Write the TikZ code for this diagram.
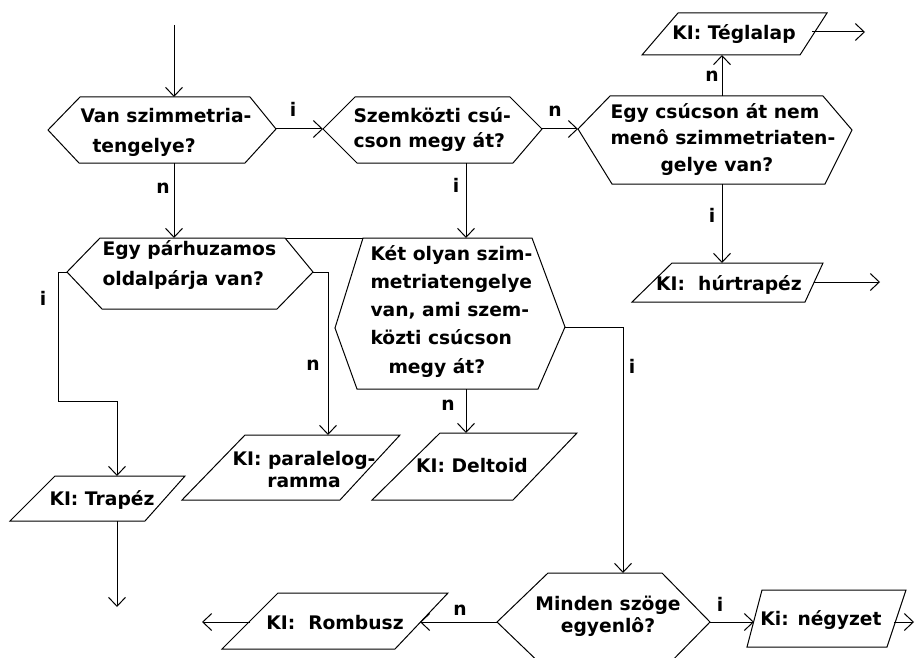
\documentclass[tikz,border=0pt]{standalone}
\usepackage{fontspec}
\setmainfont{DejaVu Sans}
\usetikzlibrary{arrows.meta}
\newcommand\mytxt[2]{\parbox[t]{#1}{\raggedright #2}}
\newcommand\myctr[2]{\parbox[t]{#1}{\centering #2}}
\begin{document}
\begin{tikzpicture}[x=1pt,y=-1pt,line width=1pt,
  shp/.style={draw,line width=1pt},
  txt/.style={inner sep=0pt,anchor=base west,font=\bfseries\fontsize{18.7}{28}\selectfont},
  ctxt/.style={inner sep=0pt,anchor=base,font=\bfseries\fontsize{18.7}{28}\selectfont},
  lbl/.style={inner sep=0pt,anchor=base,font=\bfseries\fontsize{18.7}{22}\selectfont},
  flow/.style={draw,line width=1pt,-{Straight Barb[length=9pt,width=17pt,line width=1pt]}},
  link/.style={draw,line width=1pt}]
\useasboundingbox (0,0) rectangle (915,658);
\clip (0,0) rectangle (915,658);
\fill[white] (0,0) rectangle (915,658);

% ---------- hexagons ----------
\draw[shp] (80,97) -- (250,97) -- (276,129) -- (245,163) -- (79,163) -- (48,130) -- cycle;
\coordinate (h1t) at (174,97); \coordinate (h1b) at (174,163); \coordinate (h1r) at (276,129);
\node[txt] (h1) at (80,122) {\mytxt{300pt}{\baselineskip=30pt Van szimmetria-\\\hspace*{12pt}tengelye?}};

\draw[shp] (355,97) -- (510,97) -- (542,129) -- (513,163) -- (357,163) -- (323,129) -- cycle;
\coordinate (h3l) at (323,129); \coordinate (h3r) at (542,129); \coordinate (h3b) at (466,163);
\node[txt] (h3) at (353,122) {\mytxt{300pt}{\baselineskip=25pt Szemközti csú-\\cson megy át?}};

\draw[shp] (610,96) -- (823,96) -- (852,130) -- (825,184) -- (612,184) -- (578,129) -- cycle;
\coordinate (h4l) at (578,129); \coordinate (h4t) at (722,96); \coordinate (h4b) at (722,184);
\node[txt] (h4) at (610,118) {\mytxt{300pt}{\baselineskip=27pt Egy csúcson át nem\\menô szimmetriaten-\\\hspace*{50pt}gelye van?}};

\draw[shp] (100,238) -- (285,238) -- (313,272) -- (277,309) -- (102,309) -- (67,272) -- cycle;
\coordinate (h2t) at (174,238); \coordinate (h2l) at (67,272); \coordinate (h2r) at (313,272);
\coordinate (h2tr) at (285,238);
\node[txt] (h2) at (102,255) {\mytxt{300pt}{\baselineskip=30pt Egy párhuzamos\\oldalpárja van?}};

\draw[shp] (363,238) -- (532,238) -- (565,327) -- (538,389) -- (357,389) -- (335,328) -- cycle;
\coordinate (h5t) at (466,238); \coordinate (h5b) at (466,389); \coordinate (h5r) at (565,327);
\coordinate (h5tl) at (363,238);
\node[txt] (h5) at (370,260) {\mytxt{300pt}{\baselineskip=28.3pt Két olyan szim-\\metriatengelye\\van, ami szem-\\közti csúcson\\\hspace*{18pt}megy át?}};

\draw[shp] (548,573) -- (662,573) -- (710,622) -- (662,671) -- (548,671) -- (497,622) -- cycle;
\coordinate (h6t) at (623,573); \coordinate (h6l) at (497,622); \coordinate (h6r) at (710,622);
\node[ctxt] (h6) at (608,610) {\myctr{200pt}{\baselineskip=22pt Minden szöge\\egyenlô?}};

% ---------- output parallelograms ----------
\draw[shp] (678,13) -- (827,13) -- (800,55) -- (642,55) -- cycle;
\coordinate (tgb) at (722,55); \coordinate (tgr) at (812,32); \coordinate (tge) at (865,32);
\node[ctxt] (tg) at (734,40) {KI: Téglalap};

\draw[shp] (672,263) -- (823,263) -- (805,302) -- (632,302) -- cycle;
\coordinate (hut) at (722,263); \coordinate (hur) at (814,282); \coordinate (hue) at (880,282);
\node[ctxt] (hu) at (729,290) {KI:\ \ húrtrapéz};

\draw[shp] (55,476) -- (185,476) -- (145,521) -- (10,521) -- cycle;
\coordinate (trt) at (117,476); \coordinate (trb) at (117,521); \coordinate (tre) at (117,607);
\node[ctxt] (tr) at (102,505) {KI: Trapéz};

\draw[shp] (245,435) -- (400,435) -- (340,500) -- (182,500) -- cycle;
\coordinate (pat) at (328,435);
\node[ctxt] (pa) at (304,465) {\myctr{200pt}{\baselineskip=22pt KI: paralelog-\\ramma}};

\draw[shp] (440,433) -- (577,433) -- (513,500) -- (372,500) -- cycle;
\coordinate (det) at (466,433);
\node[ctxt] (de) at (472,472) {KI: Deltoid};

\draw[shp] (278,593) -- (448,593) -- (395,649) -- (222,649) -- cycle;
\coordinate (ror) at (420,622); \coordinate (rol) at (250,622); \coordinate (roe) at (202,622);
\node[ctxt] (ro) at (335,629) {KI:\ \ Rombusz};

\draw[shp] (762,590) -- (906,590) -- (887,647) -- (747,647) -- cycle;
\coordinate (nel) at (754,622); \coordinate (ner) at (894,622); \coordinate (nee) at (914,622);
\node[ctxt] (ne) at (821,625) {Ki: négyzet};

% ---------- connectors ----------
\coordinate (start) at (174,25);
\draw[flow] (start) -- (h1t);
\draw[flow] (h1r) -- (h3l);
\draw[flow] (h3r) -- (h4l);
\draw[flow] (h1b) -- (h2t);
\draw[flow] (h3b) -- (h5t);
\draw[link] (h2tr) -- (h5tl);
\draw[flow] (h4t) -- (tgb);
\draw[flow] (tgr) -- (tge);
\draw[flow] (h4b) -- (hut);
\draw[flow] (hur) -- (hue);
\coordinate (c1) at (58,272); \coordinate (c2) at (58,401); \coordinate (c3) at (117,401);
\draw[flow] (h2l) -- (c1) -- (c2) -- (c3) -- (trt);
\draw[flow] (trb) -- (tre);
\coordinate (c4) at (328,272);
\draw[flow] (h2r) -- (c4) -- (pat);
\draw[flow] (h5b) -- (det);
\coordinate (c5) at (623,327);
\draw[flow] (h5r) -- (c5) -- (h6t);
\draw[flow] (h6r) -- (nel);
\draw[flow] (ner) -- (nee);
\draw[flow] (h6l) -- (ror);
\draw[flow] (rol) -- (roe);

% ---------- branch labels ----------
\node[lbl] (l1) at (293,117) {i};
\node[lbl] (l2) at (163,193) {n};
\node[lbl] (l3) at (555,117) {n};
\node[lbl] (l4) at (456,192) {i};
\node[lbl] (l5) at (712,82) {n};
\node[lbl] (l6) at (712,222) {i};
\node[lbl] (l7) at (43,305) {i};
\node[lbl] (l8) at (313,370) {n};
\node[lbl] (l9) at (448,410) {n};
\node[lbl] (l10) at (632,373) {i};
\node[lbl] (l11) at (720,611) {i};
\node[lbl] (l12) at (460,615) {n};
\end{tikzpicture}
\end{document}
